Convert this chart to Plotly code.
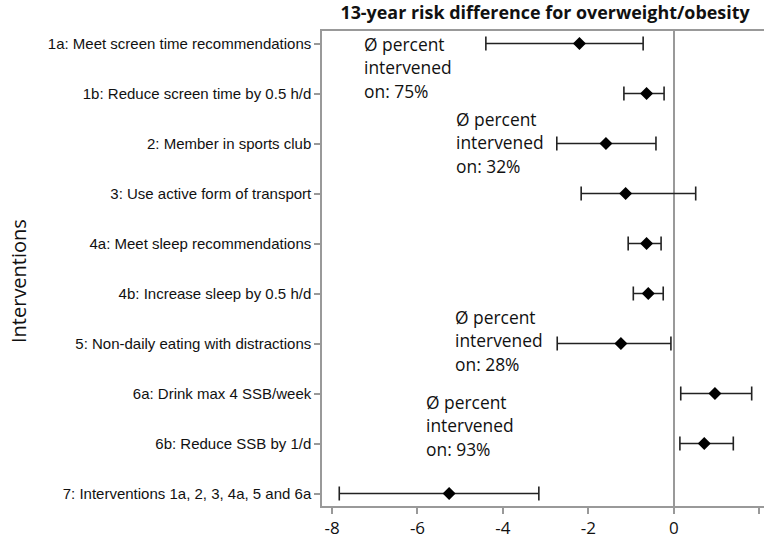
import plotly.graph_objects as go

categories = [
    "1a: Meet screen time recommendations",
    "1b: Reduce screen time by 0.5 h/d",
    "2: Member in sports club",
    "3: Use active form of transport",
    "4a: Meet sleep recommendations",
    "4b: Increase sleep by 0.5 h/d",
    "5: Non-daily eating with distractions",
    "6a: Drink max 4 SSB/week",
    "6b: Reduce SSB by 1/d",
    "7: Interventions 1a, 2, 3, 4a, 5 and 6a",
]
estimate = [-2.21, -0.64, -1.59, -1.13, -0.64, -0.60, -1.24, 0.96, 0.71, -5.26]
lower = [-4.40, -1.17, -2.74, -2.17, -1.07, -0.95, -2.73, 0.16, 0.14, -7.83]
upper = [-0.72, -0.23, -0.42, 0.51, -0.30, -0.25, -0.07, 1.82, 1.39, -3.16]

x_ticks = [-8, -6, -4, -2, 0, 2]

note_percent = ["75%", "32%", "28%", "93%"]
note_x = [-7.30, -5.14, -5.16, -5.84]
note_y = [0.0, 1.5, 5.46, 7.16]

W, H = 764, 536
ML, MR, MT, MB = 322, 0, 31, 30

fig = go.Figure()
fig.add_trace(go.Scatter(
    x=estimate,
    y=categories,
    mode="markers",
    marker=dict(symbol="diamond", size=10, color="black"),
    error_x=dict(
        type="data",
        symmetric=False,
        array=[u - e for u, e in zip(upper, estimate)],
        arrayminus=[e - l for e, l in zip(estimate, lower)],
        color="#222222",
        thickness=1.6,
        width=7,
    ),
    showlegend=False,
    hoverinfo="skip",
))

for p, xv, yv in zip(note_percent, note_x, note_y):
    for i, line in enumerate(["Ø percent", "intervened", "on: " + p]):
        fig.add_annotation(
            x=xv, y=yv, xref="x", yref="y",
            text=line, showarrow=False,
            xanchor="left", yanchor="middle",
            yshift=-23.5 * i,
            font=dict(family="Open Sans", size=17.4, color="#111111"),
        )

fig.add_annotation(
    x=(18 - ML) / (W - ML - MR), y=1 - (281 - MT) / (H - MT - MB),
    xref="paper", yref="paper", text="Interventions",
    showarrow=False, textangle=-90,
    xanchor="center", yanchor="middle",
    font=dict(family="Open Sans", size=20, color="#111111"),
)

fig.update_layout(
    width=W, height=H,
    margin=dict(l=ML, r=MR, t=MT, b=MB, autoexpand=False),
    paper_bgcolor="white",
    plot_bgcolor="white",
    title=dict(
        text="<b>13-year risk difference for overweight/obesity</b>",
        x=545 / W, xanchor="center", y=1 - 13 / H, yanchor="middle",
        font=dict(family="Open Sans", size=17.9, color="#111111"),
    ),
)
fig.update_xaxes(
    range=[-8.234, 2.108],
    tickvals=x_ticks,
    ticktext=[str(t) for t in x_ticks],
    ticks="outside", ticklen=6, tickcolor="#999999", tickwidth=1.5,
    showline=True, linecolor="#999999", linewidth=1.5, mirror=True,
    showgrid=False, automargin=False,
    zeroline=True, zerolinecolor="#999999", zerolinewidth=1.5,
    tickfont=dict(family="Open Sans", size=17, color="#111111"),
)
fig.update_yaxes(
    categoryorder="array", categoryarray=categories,
    range=[9.25, -0.25],
    ticks="outside", ticklen=6, tickcolor="#999999", tickwidth=1.5,
    showline=True, linecolor="#999999", linewidth=1.5,
    showgrid=False, zeroline=False, automargin=False,
    tickfont=dict(family="Liberation Sans", size=15, color="#111111"),
)

fig.write_html(
    "out.html",
    config={"displayModeBar": False},
    post_script="document.body.style.margin='0px';document.body.style.overflow='hidden';",
)
